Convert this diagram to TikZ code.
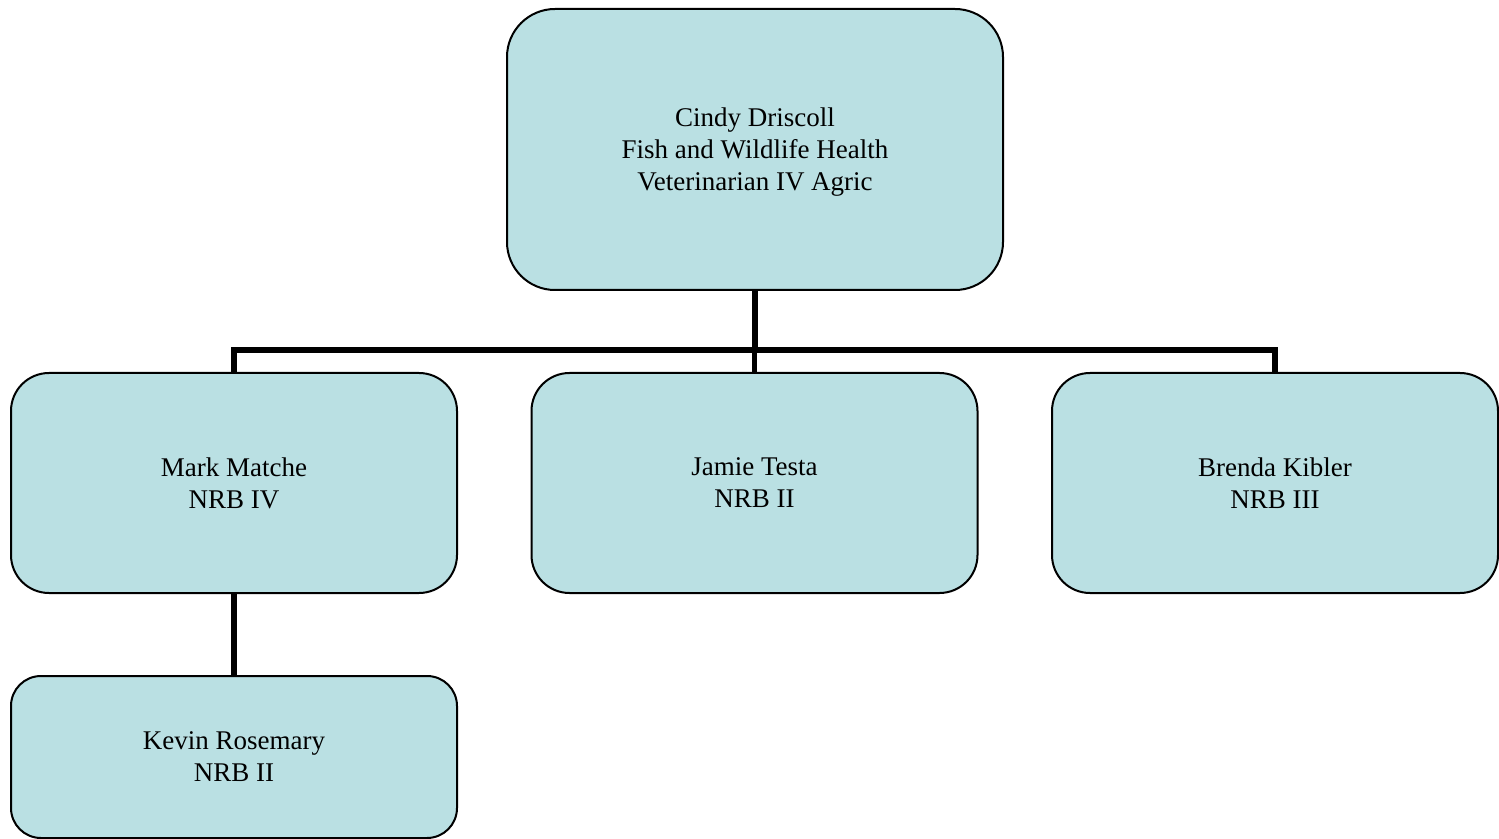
\documentclass[tikz,border=0pt]{standalone}
\usepackage{fontspec}
\setmainfont{Liberation Serif}
\definecolor{boxfill}{HTML}{BAE0E3}
\begin{document}
\begin{tikzpicture}[x=0.5pt,y=-0.5pt,
  orgbox/.style={draw=black, line width=1pt, fill=boxfill, rounded corners=#1,
    align=center, inner sep=0pt, text depth=0pt, font=\fontsize{13.5pt}{16pt}\selectfont},
  conn/.style={draw=black, line width=2.6pt}]
\useasboundingbox (0,0) rectangle (1499,839);
\node[orgbox=24pt, minimum width=248pt, minimum height=140.5pt] (top) at (755,149.5)
  {Cindy Driscoll\\Fish and Wildlife Health\\Veterinarian IV Agric};
\node[orgbox=19pt, minimum width=223pt, minimum height=110pt] (mark) at (234,483)
  {Mark Matche\\NRB IV};
\node[orgbox=19pt, minimum width=223pt, minimum height=110pt] (jamie) at (754.5,483)
  {Jamie Testa\\NRB II};
\node[orgbox=19pt, minimum width=223pt, minimum height=110pt] (brenda) at (1275,483)
  {Brenda Kibler\\NRB III};
\node[orgbox=15pt, minimum width=223pt, minimum height=81pt] (kevin) at (234,757)
  {Kevin Rosemary\\NRB II};
\coordinate (bus) at (755,350);
\draw[conn] (top.south) -- (top.south |- bus);
\draw[conn] (mark.north) -- (mark.north |- bus) -- (brenda.north |- bus) -- (brenda.north);
\draw[conn] (jamie.north) -- (jamie.north |- bus);
\draw[conn] (mark.south) -- (kevin.north);
\end{tikzpicture}
\end{document}
